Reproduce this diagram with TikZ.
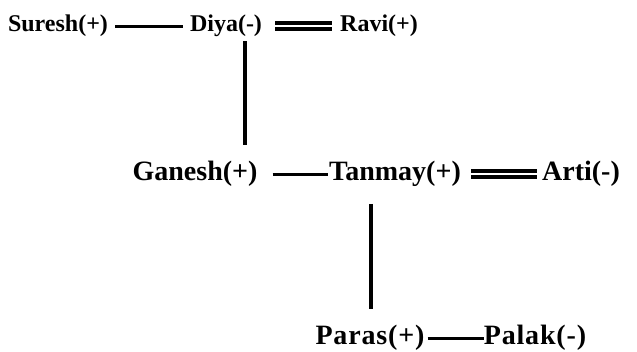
\documentclass[tikz,border=0pt]{standalone}
\usepackage{fontspec}
\setmainfont{Liberation Serif}
\usetikzlibrary{positioning,calc}

\begin{document}
\begin{tikzpicture}[
  x=1pt, y=-1pt,
  person/.style={inner sep=0pt, font=\bfseries},
  toprow/.style={person, font=\fontsize{24}{28}\selectfont\bfseries},
  midrow/.style={person, font=\fontsize{28}{32}\selectfont\bfseries},
  lowrow/.style={person, font=\fontsize{28}{32}\selectfont\bfseries\addfontfeature{LetterSpace=3}},
  link/.style={line width=3pt, draw=black},
  stem/.style={line width=3.5pt, draw=black},
  couple/.style={double, line width=3.2pt, double distance=2.8pt, draw=black},
]
\useasboundingbox (0,0) rectangle (637,351);
% top row
\node[toprow] (Suresh) at (58,26) {Suresh(+)};
\node[toprow] (Diya) at (226,26) {Diya(-)};
\node[toprow] (Ravi) at (379,26) {Ravi(+)};
\draw[link, shorten <=7pt, shorten >=7pt] (Suresh.east) -- (Diya.west);
\draw[couple, shorten <=13pt, shorten >=8pt] (Diya.east) -- (Ravi.west);
% middle row
\node[midrow] (Ganesh) at (195,174) {Ganesh(+)};
\node[midrow] (Tanmay) at (395,174) {Tanmay(+)};
\node[midrow] (Arti) at (581,174) {Arti(-)};
\draw[link, shorten <=15pt, shorten >=1pt] (Ganesh.east) -- (Tanmay.west);
\draw[couple, shorten <=10pt, shorten >=5pt] (Tanmay.east) -- (Arti.west);
% bottom row
\node[lowrow] (Paras) at (370,338) {Paras(+)};
\node[lowrow] (Palak) at (535,338) {Palak(-)};
\draw[link, shorten <=3pt] (Paras.east) -- (Palak.west);
% stems going down
\coordinate (dstem) at (245,145);
\coordinate (tstem) at (371,309);
\draw[stem, shorten <=4pt] (Diya.south -| dstem) -- (dstem);
\draw[stem, shorten <=17pt] (Tanmay.south -| tstem) -- (tstem);
\end{tikzpicture}
\end{document}
